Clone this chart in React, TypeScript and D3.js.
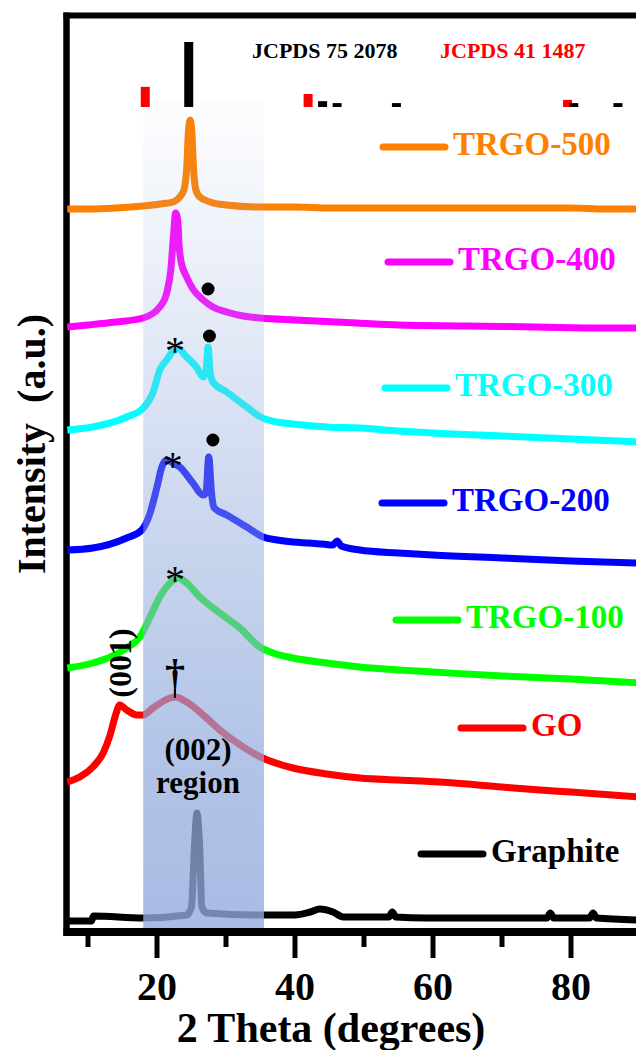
import React from 'react';
import * as d3 from 'd3';

// 2θ axis ticks
const majorTicks = [20, 40, 60, 80];
const minorTicks = [10, 30, 50, 70];

// Diffractograms: [2θ (deg), intensity above the series baseline (a.u.)]
const trgo500: [number, number][] = [
  [7, 0], [10, 0], [14, 1], [18, 3], [20.5, 5], [22.3, 7], [23.3, 12], [23.9, 19], [24.3, 40],
  [24.55, 77], [24.8, 89], [25.05, 77], [25.3, 40], [25.6, 20], [26.2, 12], [27.7, 7], [30, 4],
  [35, 2], [40, 2], [45, 1], [50, 1], [55, 1], [60, 1], [65, 1], [70, 1], [75, 1], [80, 1], [85, 0], [90, 0],
];
const trgo400: [number, number][] = [
  [7, 0], [10, 2], [14, 5], [18, 9], [20.4, 20], [21.4, 34], [22.0, 57], [22.4, 92], [22.7, 114],
  [23.0, 107], [23.2, 82], [23.5, 65], [24.3, 50], [25.2, 38], [26.7, 27], [28.1, 20], [30.1, 15],
  [32.5, 11], [35, 9], [40, 7], [49, 4], [55, 2], [65, 1], [75, 0], [85, -1], [90, -1],
];
const trgo300: [number, number][] = [
  [7, 0], [10.7, 3], [15.6, 13], [18, 22], [19.4, 37], [20.4, 60], [21.4, 70], [22.9, 82], [24.3, 73],
  [25.8, 62], [26.7, 53], [27.1, 58], [27.4, 83], [27.7, 58], [28.1, 48], [30.1, 38], [33, 23],
  [35, 13], [37.4, 8], [39.7, 6], [44.6, 3], [49.4, 2], [55, -1], [60, -3], [70, -6], [80, -9], [90, -12],
];
const trgo200: [number, number][] = [
  [7, 0], [10.7, 2], [15.6, 12], [17.8, 20], [19, 37], [20, 63], [20.7, 83], [21.4, 90], [22.3, 87],
  [23.3, 83], [25.2, 67], [26.7, 55], [27.1, 57], [27.5, 93], [27.9, 57], [28.3, 42], [30.1, 35],
  [33, 23], [35.4, 13], [37.4, 10], [39.7, 8], [42, 7], [44, 6], [45.5, 5], [46.1, 9], [46.7, 4],
  [49.4, 0], [55, -3], [60, -5], [70, -8], [80, -11], [90, -13],
];
const trgo100: [number, number][] = [
  [7, 0], [10.7, 5], [15.6, 20], [17.5, 31], [19, 51], [20.4, 71], [21.9, 85], [23.1, 90], [24.3, 85],
  [26.2, 71], [29.1, 55], [32, 40], [34.9, 21], [36.8, 15], [39.7, 10], [44.6, 5], [49.4, 1],
  [55, -2], [60, -4], [70, -8], [80, -11], [90, -15],
];
const go: [number, number][] = [
  [7, 0], [8.8, 5], [10.7, 15], [12.2, 29], [13.2, 47], [14.0, 67], [14.6, 77], [15.6, 72], [17.1, 67],
  [18, 67], [19.4, 74], [21.9, 84], [22.6, 85], [24.3, 80], [26.7, 67], [29.1, 52], [32.5, 35],
  [35, 25], [36, 22], [39.7, 14], [44.6, 8], [49.4, 4], [55, 2], [61, 0], [70, -5], [75.5, -8], [80, -10], [90, -15],
];
const graphite: [number, number][] = [
  [7, 0], [10.5, 0], [10.8, 5], [18, 3], [24.3, 6], [25.0, 14], [25.4, 71], [25.8, 108], [26.2, 71],
  [26.5, 14], [27.2, 8], [35, 6], [40, 6], [42.2, 9], [43.6, 12], [45.5, 9], [47, 4], [53.6, 4],
  [54.1, 9], [54.6, 4], [59, 3], [70, 3], [76.5, 3], [77, 8], [77.5, 3], [82.7, 3], [83.2, 8], [83.7, 3], [90, 1],
];

const seriesNames = ['TRGO-500', 'TRGO-400', 'TRGO-300', 'TRGO-200', 'TRGO-100', 'GO', 'Graphite'];
const seriesData = [trgo500, trgo400, trgo300, trgo200, trgo100, go, graphite];
const seriesOffsets = [723, 605, 502, 382, 264, 150, 11];
const seriesColors = ['#ff8000', '#ff00ff', '#00ffff', '#0000ff', '#00ff00', '#ff0000', '#000000'];

// Reference patterns: [2θ, relative intensity]
const jcpds752078: [number, number][] = [[24.6, 100], [44.0, 9], [46.1, 6], [54.7, 6], [80.4, 6], [86.8, 6]];
const jcpds411487: [number, number][] = [[18.3, 31], [41.9, 20], [79.5, 11]];

// Peak markers: [2θ, intensity]
const dotMarks: [number, number][] = [[27.4, 643], [27.6, 596], [28.1, 492]];
const starMarks: [number, number][] = [[22.6, 588], [22.3, 473], [22.6, 359]];
const daggerMark: [number, number] = [22.6, 245];

// (002) region band, 2θ
const bandRange = [18, 35.5];

// legend placement: line start x, line y (px)
const legendLayout: [number, number][] = [
  [383, 147], [388, 262], [385, 388], [382, 503], [396, 620], [461, 728], [421, 854],
];

const W = 636;
const H = 1050;
const FONT = "'Liberation Serif', 'Times New Roman', serif";

export default function App() {
  const x = d3.scaleLinear().domain([7, 90]).range([67.3, 640]);
  const y = d3.scaleLinear().domain([0, 920]).range([932, 12]);
  const stick = d3.scaleLinear().domain([0, 100]).range([0, 65]);
  const stickBase = y(825);

  const lines = seriesData.map((pts, i) =>
    d3
      .line<[number, number]>()
      .x((d) => x(d[0]))
      .y((d) => y(seriesOffsets[i] + d[1]))
      .curve(d3.curveMonotoneX)(pts) as string
  );

  const bandTop = 100;
  const bandBottom = 928;

  return (
    <svg
      width={W}
      height={H}
      viewBox={`0 0 ${W} ${H}`}
      style={{ position: 'absolute', left: 0, top: 0, display: 'block', background: '#fff' }}
      fontFamily={FONT}
      fontWeight="bold"
    >
      <defs>
        <linearGradient id="band" x1="0" y1="0" x2="0" y2="1">
          <stop offset="0%" stopColor="rgb(146,171,221)" stopOpacity={0.02} />
          <stop offset="12%" stopColor="rgb(146,171,221)" stopOpacity={0.12} />
          <stop offset="27%" stopColor="rgb(146,171,221)" stopOpacity={0.25} />
          <stop offset="48%" stopColor="rgb(146,171,221)" stopOpacity={0.45} />
          <stop offset="60%" stopColor="rgb(146,171,221)" stopOpacity={0.55} />
          <stop offset="78%" stopColor="rgb(146,171,221)" stopOpacity={0.7} />
          <stop offset="100%" stopColor="rgb(146,171,221)" stopOpacity={0.8} />
        </linearGradient>
      </defs>

      {/* frame */}
      <line x1={63.5} x2={W} y1={15.5} y2={15.5} stroke="#000" strokeWidth={6} />
      <line x1={66.5} x2={66.5} y1={12.5} y2={936} stroke="#000" strokeWidth={6.5} />
      <line x1={63.5} x2={W} y1={932} y2={932} stroke="#000" strokeWidth={8} />

      {/* x ticks */}
      {majorTicks.map((t) => (
        <line key={'M' + t} x1={x(t)} x2={x(t)} y1={934} y2={958} stroke="#000" strokeWidth={5} />
      ))}
      {minorTicks.map((t) => (
        <line key={'m' + t} x1={x(t)} x2={x(t)} y1={934} y2={947} stroke="#000" strokeWidth={5} />
      ))}
      {majorTicks.map((t) => (
        <text key={'L' + t} x={x(t)} y={1000} fontSize={40} textAnchor="middle" fill="#000">
          {t}
        </text>
      ))}

      {/* diffractograms */}
      {lines.map((d, i) => (
        <path
          key={seriesNames[i]}
          d={d}
          fill="none"
          stroke={seriesColors[i]}
          strokeWidth={7}
          strokeLinejoin="round"
        />
      ))}

      {/* (002) region band */}
      <rect
        x={x(bandRange[0])}
        y={bandTop}
        width={x(bandRange[1]) - x(bandRange[0])}
        height={bandBottom - bandTop}
        fill="url(#band)"
      />

      {/* reference sticks */}
      {jcpds411487.map(([t, v]) => (
        <rect key={'r' + t} x={x(t) - 4.5} y={stickBase - stick(v)} width={9} height={stick(v)} fill="#ff0000" />
      ))}
      {jcpds752078.map(([t, v]) => (
        <rect key={'k' + t} x={x(t) - 4.5} y={stickBase - stick(v)} width={9} height={stick(v)} fill="#000" />
      ))}
      <text x={252} y={58} fontSize={22} fill="#000">JCPDS 75 2078</text>
      <text x={440} y={58} fontSize={22} fill="#ff0000">JCPDS 41 1487</text>

      {/* peak markers */}
      {dotMarks.map(([t, v]) => (
        <circle key={'d' + t + v} cx={x(t)} cy={y(v)} r={6.5} fill="#000" />
      ))}
      {starMarks.map(([t, v]) => (
        <text
          key={'s' + t + v}
          x={x(t)}
          y={y(v) + 20}
          fontSize={40}
          fontWeight="normal"
          textAnchor="middle"
          fill="#000"
        >
          *
        </text>
      ))}
      <text x={x(daggerMark[0])} y={y(daggerMark[1])} fontSize={40} textAnchor="middle" fill="#000">
        †
      </text>
      <line
        x1={x(daggerMark[0])}
        x2={x(daggerMark[0])}
        y1={y(daggerMark[1]) + 2}
        y2={y(daggerMark[1]) + 11}
        stroke="#000"
        strokeWidth={2}
      />
      <text
        transform={`translate(131, 663) rotate(-90)`}
        fontSize={32}
        textAnchor="middle"
        fill="#000"
      >
        (001)
      </text>
      <text x={198} y={760} fontSize={31} textAnchor="middle" fill="#000">
        (002)
      </text>
      <text x={198} y={793} fontSize={31} textAnchor="middle" fill="#000">
        region
      </text>

      {/* legend */}
      {seriesNames.map((name, i) => {
        const [lx, ly] = legendLayout[i];
        return (
          <g key={'lg' + name}>
            <line
              x1={lx}
              x2={lx + 62}
              y1={ly}
              y2={ly}
              stroke={seriesColors[i]}
              strokeWidth={7}
              strokeLinecap="round"
            />
            <text x={lx + 70} y={ly + 8} fontSize={33} fill={seriesColors[i]}>
              {name}
            </text>
          </g>
        );
      })}

      {/* axis titles */}
      <text x={331} y={1042} fontSize={42} textAnchor="middle" fill="#000">
        2 Theta (degrees)
      </text>
      <text
        transform={`translate(45, 444) rotate(-90)`}
        fontSize={40}
        textAnchor="middle"
        fill="#000"
        style={{ whiteSpace: 'pre' }}
      >
        {'Intensity  (a.u.)'}
      </text>
    </svg>
  );
}
